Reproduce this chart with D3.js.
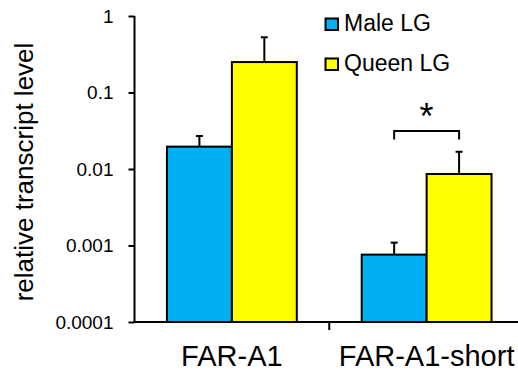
<!DOCTYPE html>
<html>
<head>
<meta charset="utf-8">
<script src="https://cdn.jsdelivr.net/npm/d3@7"></script>
<style>
  html, body { margin: 0; padding: 0; background: #fff; }
  svg { display: block; font-family: "Liberation Sans", Arial, sans-serif; }
</style>
</head>
<body>
<svg id="chart" width="518" height="374"></svg>
<script>
// Transcript levels (log scale), mean and upper error limit per gene and caste
const categories = ["FAR-A1", "FAR-A1-short"];
const seriesNames = ["Male LG", "Queen LG"];
const seriesColors = ["#00B0F0", "#FFFF00"];
const maleValues = [0.0196, 0.00076];
const queenValues = [0.25, 0.0086];
const maleErrorTop = [0.027, 0.00109];
const queenErrorTop = [0.527, 0.0168];
const yTickValues = [0.0001, 0.001, 0.01, 0.1, 1];
const yTickLabels = ["0.0001", "0.001", "0.01", "0.1", "1"];

const svg = d3.select("#chart");
const plotLeft = 134.5, plotRight = 524, plotTop = 16, plotBottom = 322;

const y = d3.scaleLog().domain([0.0001, 1]).range([plotBottom, plotTop]);
const x0 = d3.scaleBand().domain(categories).range([plotLeft, plotRight]).padding(0);
const x1 = d3.scaleBand().domain(seriesNames).range([0, x0.bandwidth()])
  .paddingInner(0).paddingOuter(0.5);

const rows = categories.map((c, i) => ({
  cat: c,
  bars: [
    { s: seriesNames[0], v: maleValues[i], e: maleErrorTop[i], color: seriesColors[0] },
    { s: seriesNames[1], v: queenValues[i], e: queenErrorTop[i], color: seriesColors[1] }
  ]
}));

// Error bars (upper only), drawn beneath the bars
const capHalf = 3.5;
rows.forEach(r => {
  r.bars.forEach(b => {
    const cx = x0(r.cat) + x1(b.s) + x1.bandwidth() / 2;
    svg.append("line")
      .attr("x1", cx).attr("x2", cx)
      .attr("y1", y(b.v)).attr("y2", y(b.e))
      .attr("stroke", "#000").attr("stroke-width", 2);
    svg.append("line")
      .attr("x1", cx - capHalf).attr("x2", cx + capHalf)
      .attr("y1", y(b.e)).attr("y2", y(b.e))
      .attr("stroke", "#000").attr("stroke-width", 2);
  });
});

// Bars
rows.forEach(r => {
  svg.append("g").selectAll("rect").data(r.bars).join("rect")
    .attr("x", d => x0(r.cat) + x1(d.s))
    .attr("width", x1.bandwidth())
    .attr("y", d => y(d.v))
    .attr("height", d => plotBottom - y(d.v))
    .attr("fill", d => d.color)
    .attr("stroke", "#000")
    .attr("stroke-width", 2);
});

// Y axis
const yAxis = d3.axisLeft(y)
  .tickValues(yTickValues)
  .tickFormat((d, i) => yTickLabels[i])
  .tickSize(6).tickPadding(15);
const gy = svg.append("g").attr("transform", `translate(${plotLeft},0)`).call(yAxis);
gy.select(".domain").attr("stroke", "#000").attr("stroke-width", 2)
  .attr("d", `M0,${plotTop}V${plotBottom + 1}`);
gy.selectAll(".tick line").attr("stroke", "#000").attr("stroke-width", 2);
gy.selectAll(".tick text")
  .attr("fill", "#000")
  .style("font-size", "19px")
  .style("font-family", "'Liberation Sans', Arial, sans-serif");

// X axis line with a divider tick between categories
svg.append("line")
  .attr("x1", plotLeft - 1).attr("x2", 518)
  .attr("y1", plotBottom).attr("y2", plotBottom)
  .attr("stroke", "#000").attr("stroke-width", 2);
svg.append("line")
  .attr("x1", x0(categories[1])).attr("x2", x0(categories[1]))
  .attr("y1", plotBottom).attr("y2", plotBottom + 8)
  .attr("stroke", "#000").attr("stroke-width", 2);

// Category labels
svg.append("g").selectAll("text").data(categories).join("text")
  .attr("x", d => x0(d) + x0.bandwidth() / 2)
  .attr("y", 366)
  .attr("text-anchor", "middle")
  .style("font-size", "29px")
  .text(d => d);

// Y axis title
svg.append("text")
  .attr("transform", "translate(33,172) rotate(-90)")
  .attr("text-anchor", "middle")
  .style("font-size", "26px")
  .text("relative transcript level");

// Legend
const legend = svg.append("g");
seriesNames.forEach((name, i) => {
  const ly = 18.5 + i * 40;
  legend.append("rect")
    .attr("x", 325.5).attr("y", ly)
    .attr("width", 12.5).attr("height", 11.5)
    .attr("fill", seriesColors[i])
    .attr("stroke", "#000").attr("stroke-width", 2);
  legend.append("text")
    .attr("x", 344).attr("y", ly + 12.5)
    .style("font-size", "23px")
    .text(name);
});

// Significance bracket between the FAR-A1-short bars
const sx1 = x0(categories[1]) + x1(seriesNames[0]) + x1.bandwidth() / 2;
const sx2 = x0(categories[1]) + x1(seriesNames[1]) + x1.bandwidth() / 2;
svg.append("path")
  .attr("d", `M${sx1},139.5V131H${sx2}V139.5`)
  .attr("fill", "none").attr("stroke", "#000").attr("stroke-width", 2);
svg.append("text")
  .attr("x", (sx1 + sx2) / 2).attr("y", 129)
  .attr("text-anchor", "middle")
  .style("font-size", "36px")
  .text("*");
</script>
</body>
</html>
